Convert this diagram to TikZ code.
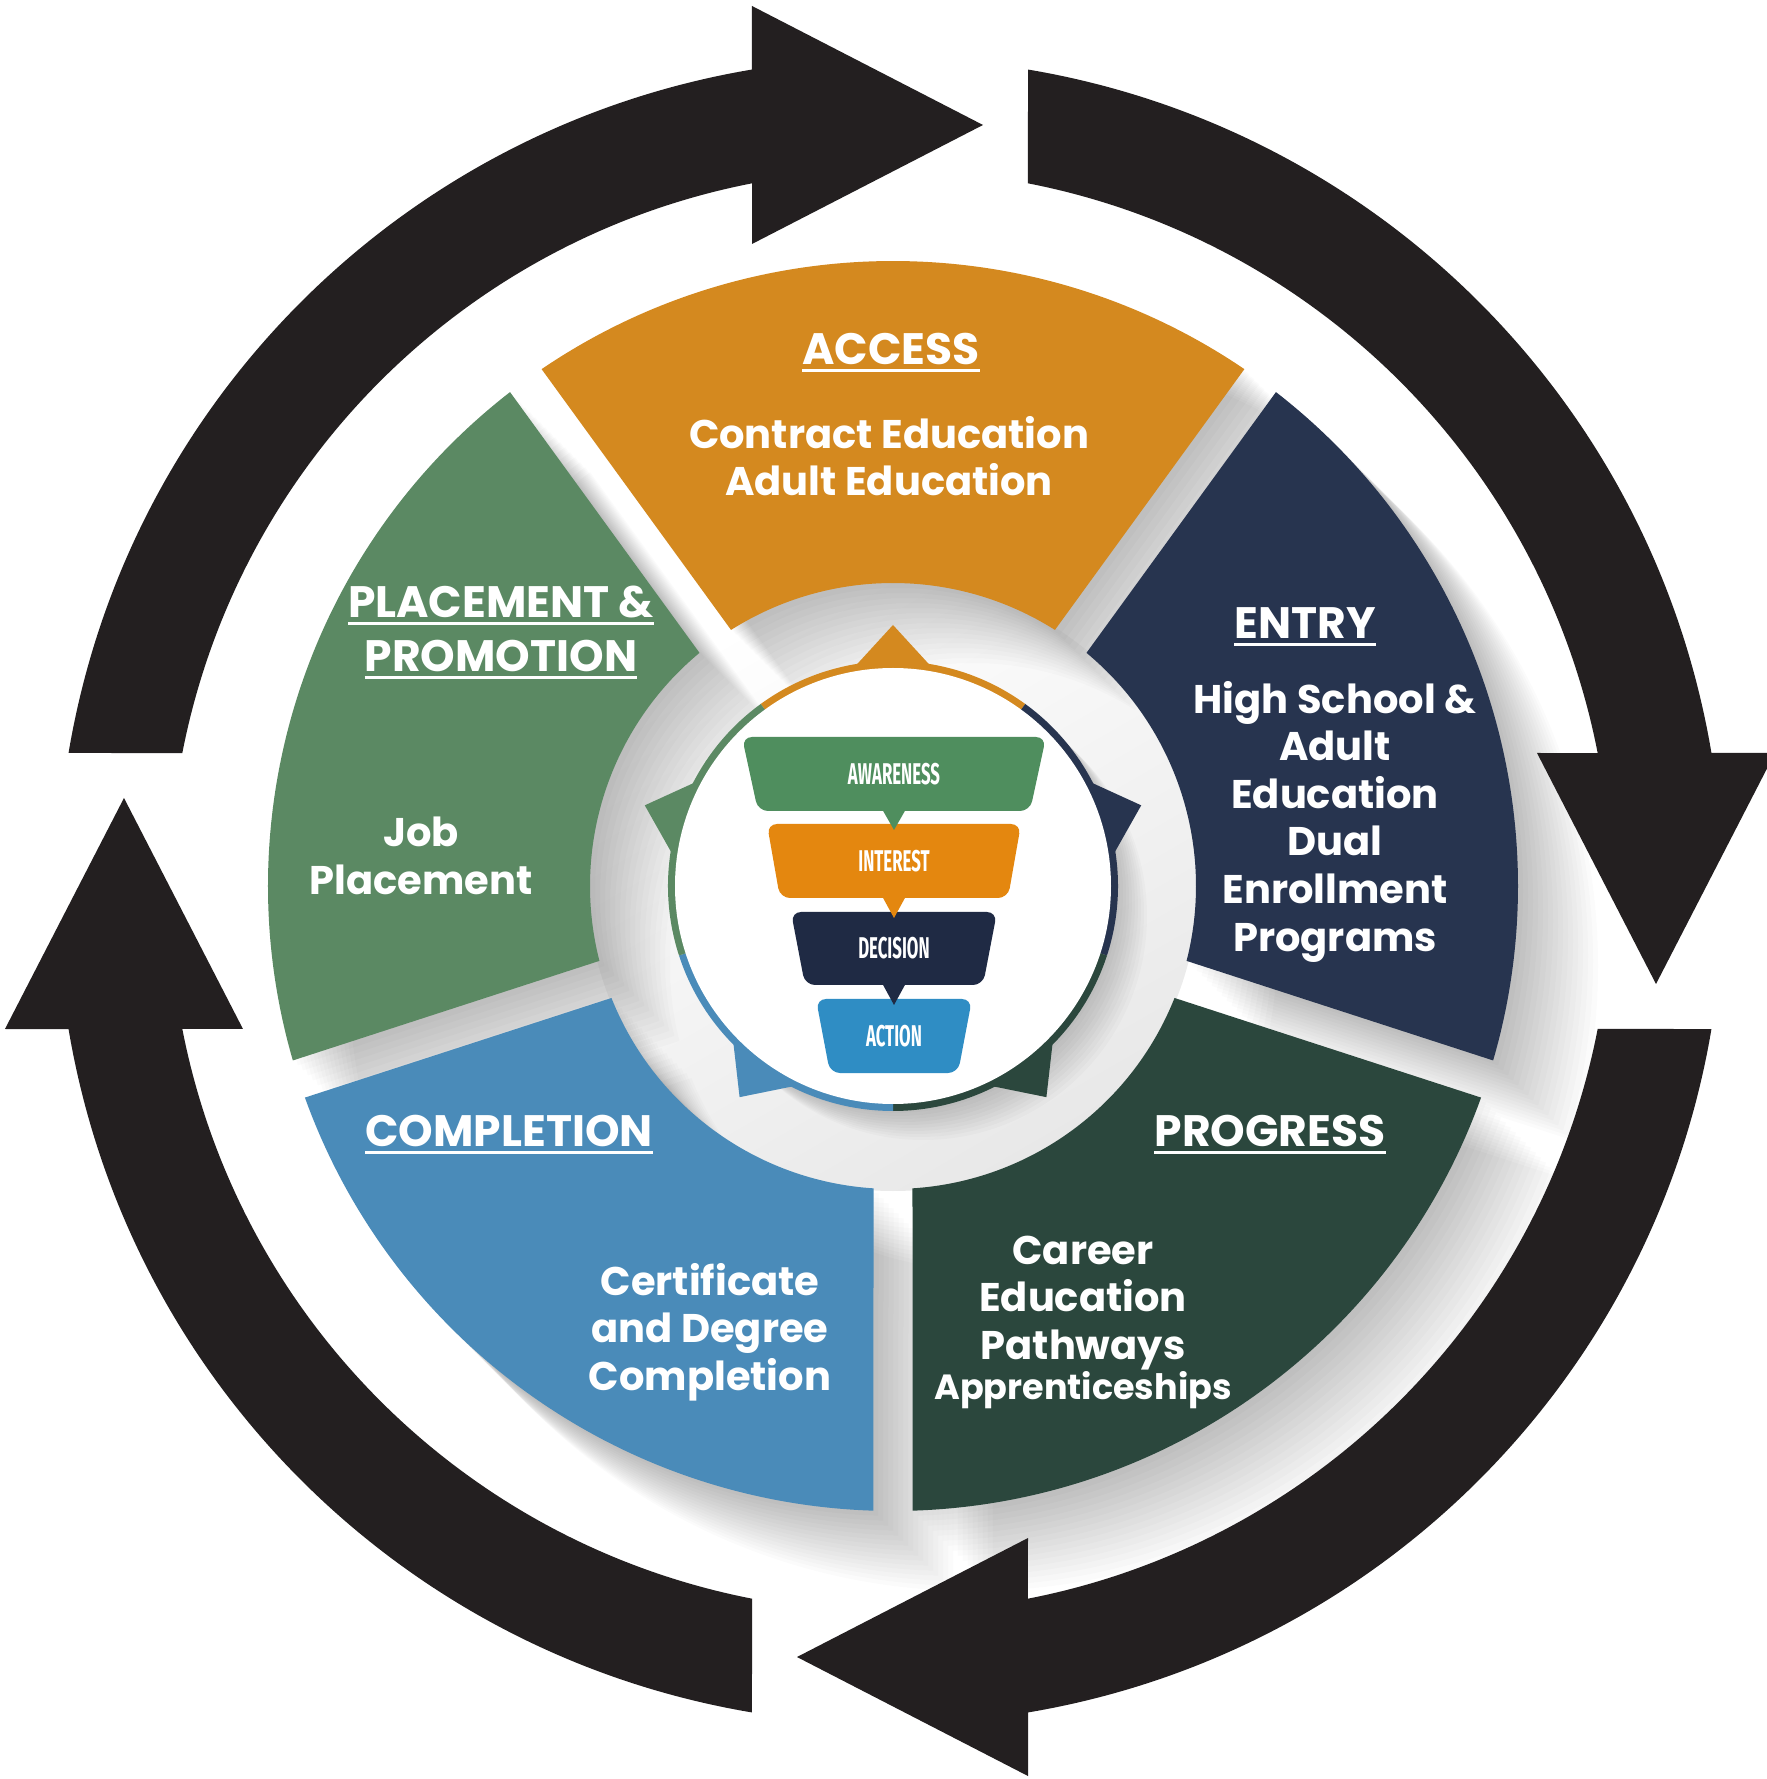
\documentclass[tikz,border=0pt]{standalone}
\usepackage{fontspec}
\usepackage{graphicx}
\setmainfont{Poppins}
\newfontfamily\funnelfont{Fira Sans}
\usetikzlibrary{calc}
\definecolor{cAccess}{HTML}{D4891F}
\definecolor{cEntry}{HTML}{27344F}
\definecolor{cProg}{HTML}{2B473D}
\definecolor{cComp}{HTML}{4A8BB9}
\definecolor{cPlace}{HTML}{5B8963}
\definecolor{fGreen}{HTML}{4F8E5E}
\definecolor{fOrange}{HTML}{E4870F}
\definecolor{fNavy}{HTML}{1F2A44}
\definecolor{fBlue}{HTML}{2F8DC4}
\definecolor{arrowc}{HTML}{231F20}
\begin{document}
\begin{tikzpicture}[x=1pt,y=1pt,
  body/.style={text=white, align=center, inner sep=0pt, font=\bfseries\fontsize{40}{47.6}\selectfont},
  smallbody/.style={text=white, align=center, inner sep=0pt, font=\bfseries\fontsize{35}{42}\selectfont},
  head/.style={text=white, inner sep=0pt, font=\bfseries\fontsize{44}{53}\selectfont},
  uline/.style={white, line width=3.5pt},
  ftext/.style={text=white, inner sep=0pt, font=\funnelfont\bfseries\fontsize{30}{30}\selectfont},
  ringarrow/.style={fill=arrowc}
]
\useasboundingbox (-890,-888) rectangle (876,891);
\fill[white] (-890,-888) rectangle (876,891);

% central backdrop
\shade[shift={(3,5)}, top color=white, bottom color=black!9, shading angle=30] (0,0) circle[radius=305];

% sector shadows
\begin{scope}[shift={(3,5)}]
\foreach \p in {90,18,-54,-126,162} {
  \pgfmathsetmacro{\aa}{\p+34.21}
  \pgfmathsetmacro{\ab}{\p-34.21}
  \pgfmathsetmacro{\ba}{\p+32.31}
  \pgfmathsetmacro{\bb}{\p-32.31}
  \foreach \i in {1,...,16} {
    \fill[black, opacity=0.017, shift={(\i*5,-\i*5)}]
      (\aa:625) arc[start angle=\aa, end angle=\ab, radius=625]
      -- (\bb:303) arc[start angle=\bb, end angle=\ba, radius=303] -- cycle;
  }
}
% sectors
\foreach \p/\c in {90/cAccess,18/cEntry,-54/cProg,-126/cComp,162/cPlace} {
  \pgfmathsetmacro{\aa}{\p+34.21}
  \pgfmathsetmacro{\ab}{\p-34.21}
  \pgfmathsetmacro{\ba}{\p+32.31}
  \pgfmathsetmacro{\bb}{\p-32.31}
  \fill[\c] (\aa:625) arc[start angle=\aa, end angle=\ab, radius=625]
      -- (\bb:303) arc[start angle=\bb, end angle=\ba, radius=303] -- cycle;
}
% central button shadow
\foreach \i in {1,...,10} {
  \fill[black, opacity=0.02, shift={(\i*3,-\i*3)}] (0,0) circle[radius=224];
}
% pentagon tips
\foreach \p/\c in {90/cAccess,18/cEntry,-54/cProg,-126/cComp,162/cPlace} {
  \pgfmathsetmacro{\ta}{\p+13}
  \pgfmathsetmacro{\tb}{\p-13}
  \pgfmathsetmacro{\ra}{\p+36}
  \pgfmathsetmacro{\rb}{\p-36}
  \fill[\c] (\p:261) -- (\tb:214) -- (\ta:214) -- cycle;
  \fill[\c] (0,0) -- (\ra:225) arc[start angle=\ra, end angle=\rb, radius=225] -- cycle;
}
\fill[white] (0,0) circle[radius=218];
\end{scope}

% funnel
\begin{scope}[shift={(4,0)}]
\fill[fGreen, rounded corners=10] (-152,154) -- (152,154) -- (136,80) -- (-136,80) -- cycle;
\fill[fOrange, rounded corners=10] (-127,67) -- (127,67) -- (114,-7) -- (-114,-7) -- cycle;
\fill[fNavy, rounded corners=10] (-103,-21) -- (103,-21) -- (89,-94) -- (-89,-94) -- cycle;
\fill[fBlue, rounded corners=10] (-78,-108) -- (78,-108) -- (64,-182) -- (-64,-182) -- cycle;
\fill[fGreen] (-12,82) -- (12,82) -- (0,61) -- cycle;
\fill[fOrange] (-12,-5) -- (12,-5) -- (0,-27) -- cycle;
\fill[fNavy] (-12,-92) -- (12,-92) -- (0,-114) -- cycle;
\node[ftext] (aw) at (0,117) {\scalebox{0.56}[1]{AWARENESS}};
\node[ftext] (in) at (0,30) {\scalebox{0.56}[1]{INTEREST}};
\node[ftext] (de) at (0,-57.5) {\scalebox{0.56}[1]{DECISION}};
\node[ftext] (ac) at (0,-145) {\scalebox{0.56}[1]{ACTION}};
\end{scope}

% headings
\node[head] (hAcc) at (1,542) {ACCESS};
\node[head] (hPl1) at (-389,289) {PLACEMENT \&};
\node[head] (hPl2) at (-389,235) {PROMOTION};
\node[head] (hEn) at (415,268) {ENTRY};
\node[head] (hPr) at (380,-240) {PROGRESS};
\node[head] (hCo) at (-381,-240) {COMPLETION};
\foreach \h in {hAcc,hPl1,hPl2,hEn,hPr,hCo} {
  \draw[uline] ([yshift=-6pt]\h.base west) -- ([yshift=-6pt]\h.base east);
}

% body texts
\node[body] (tAcc) at (-1,435) {Contract Education\\Adult Education};
\node[body] (tPl) at (-469,35) {Job\\Placement};
\node[body] (tEn) at (445,69.5) {High School \&\\Adult\\Education\\Dual\\Enrollment\\Programs};
\node[body] (tPr) at (193,-412) {Career\\Education\\Pathways};
\node[smallbody] (tPr2) at (193,-499) {Apprenticeships};
\node[body] (tCo) at (-180,-441) {Certificate\\and Degree\\Completion};

% ring arrows
\foreach \r in {0,-90,-180,-270} {
  \fill[ringarrow, rotate=\r] (170.46:833) arc[start angle=170.46, end angle=99.54, radius=833]
    -- (-138,885) -- (93,766) -- (-138,647)
    -- (101.03:721) arc[start angle=101.03, end angle=168.97, radius=721] -- cycle;
}
\end{tikzpicture}
\end{document}
